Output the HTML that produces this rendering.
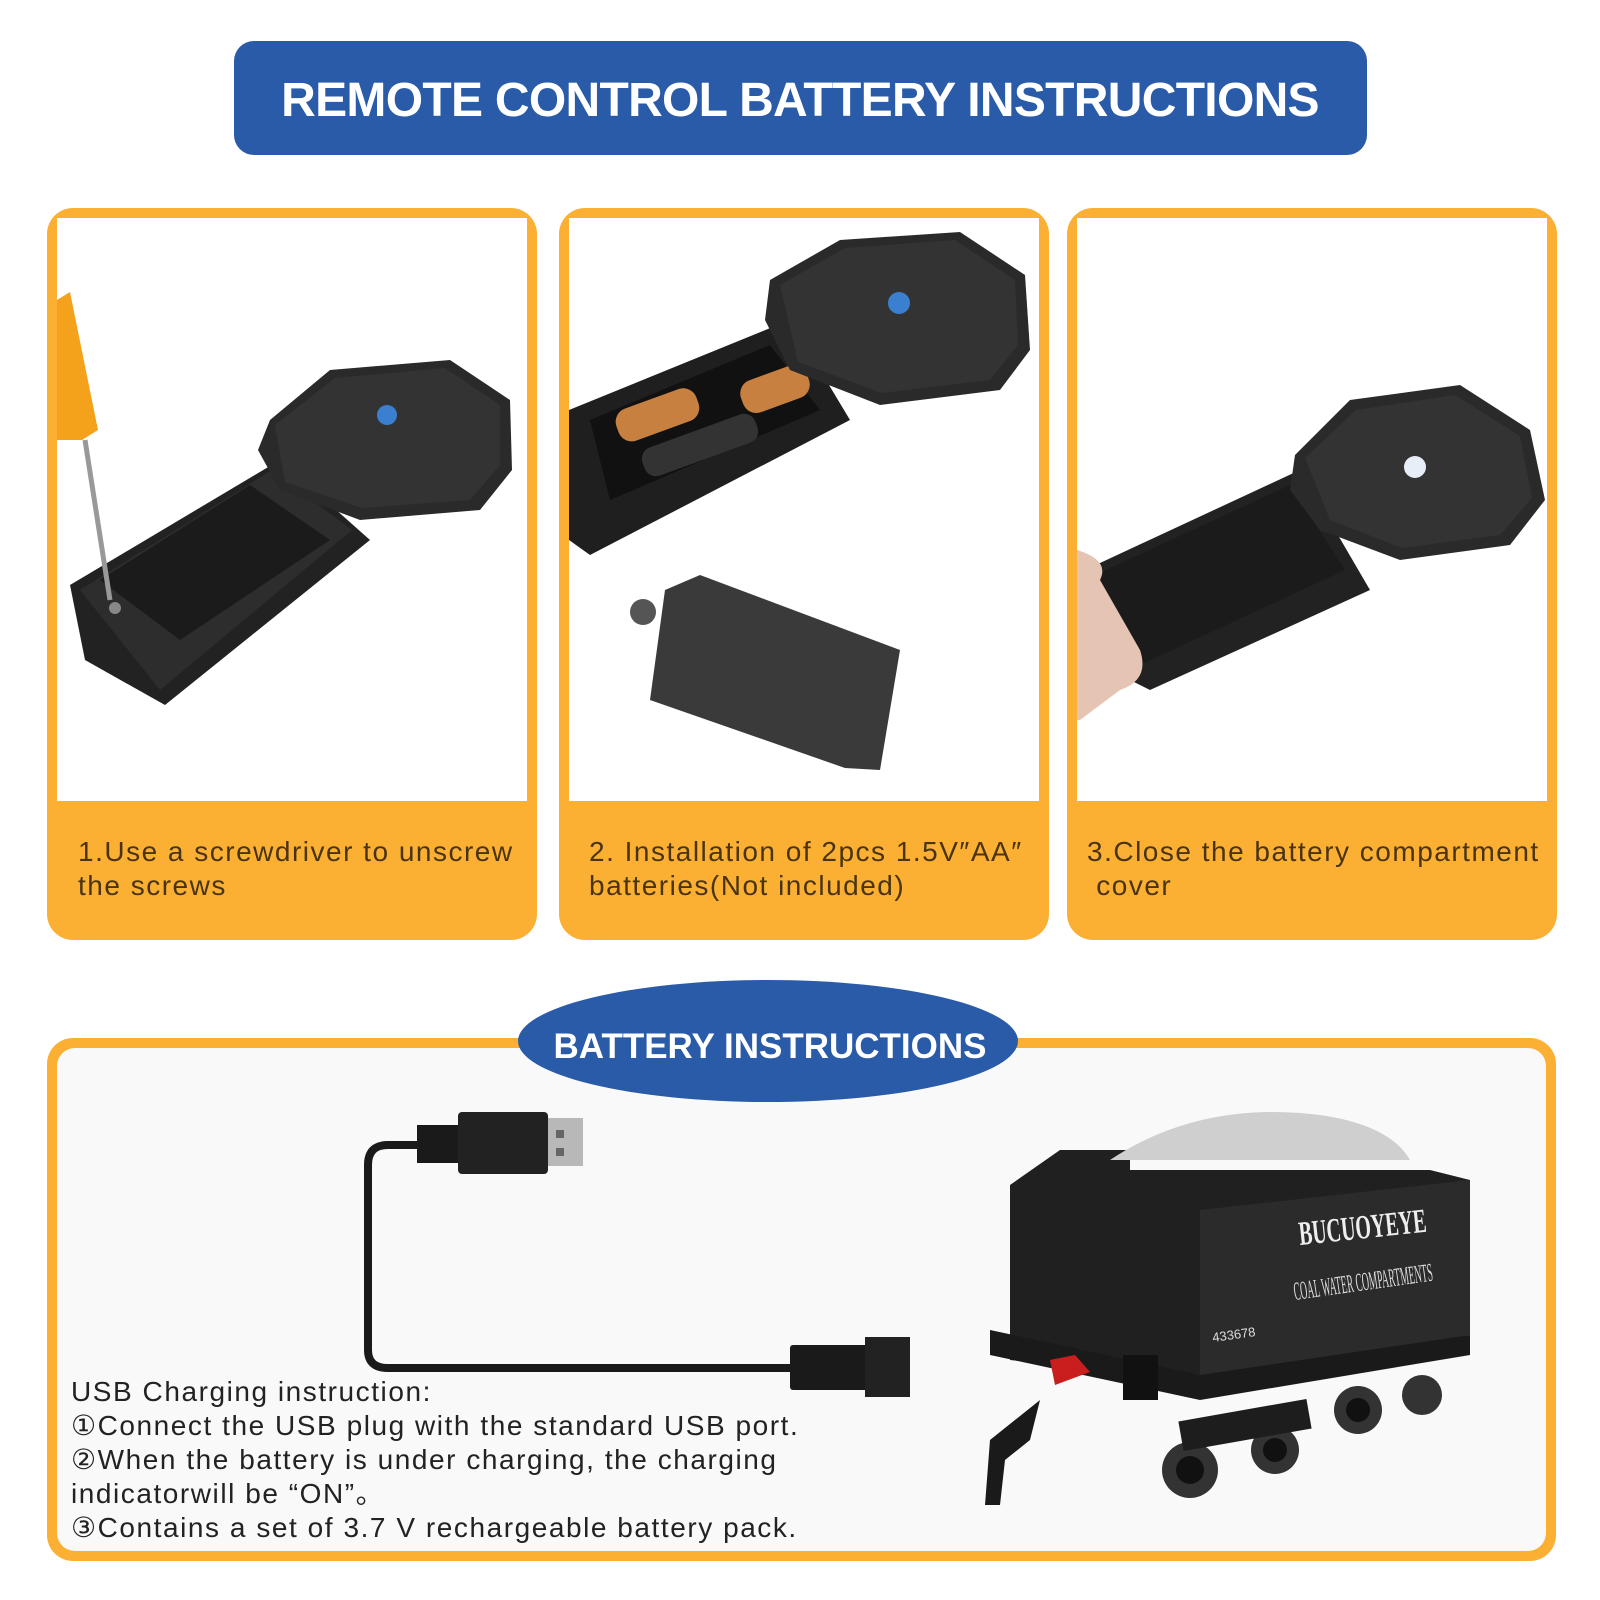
<!DOCTYPE html>
<html><head><meta charset="utf-8">
<style>
html,body{margin:0;padding:0;background:#fff;}
body{width:1600px;height:1600px;position:relative;overflow:hidden;font-family:"Liberation Sans",sans-serif;}
.t{position:absolute;color:#4a3410;font-size:28px;line-height:34px;letter-spacing:1.5px;}
.b{position:absolute;color:#222;font-size:28px;line-height:34px;letter-spacing:1.55px;}
</style></head><body>
<svg width="1600" height="1600" viewBox="0 0 1600 1600" style="position:absolute;left:0;top:0">
<!-- title -->
<rect x="234" y="41" width="1133" height="114" rx="20" fill="#2a5ba8"/>
<text x="800" y="116" text-anchor="middle" font-family="Liberation Sans" font-weight="bold" font-size="48" letter-spacing="-0.7" fill="#fff">REMOTE CONTROL BATTERY INSTRUCTIONS</text>

<!-- panels -->
<g>
<rect x="47" y="208" width="490" height="732" rx="26" fill="#fbb034"/>
<rect x="57" y="218" width="470" height="583" fill="#fff"/>
<rect x="559" y="208" width="490" height="732" rx="26" fill="#fbb034"/>
<rect x="569" y="218" width="470" height="583" fill="#fff"/>
<rect x="1067" y="208" width="490" height="732" rx="26" fill="#fbb034"/>
<rect x="1077" y="218" width="470" height="583" fill="#fff"/>
</g>

<!-- remote 1 -->
<g>
<polygon points="70,585 280,460 370,540 165,705 85,660" fill="#222"/>
<polygon points="80,590 272,470 352,530 160,690" fill="#2d2d2d"/>
<polygon points="100,580 250,485 330,540 180,640" fill="#1b1b1b"/>
<polygon points="270,420 330,370 450,360 510,400 512,470 480,510 360,520 280,490 258,450" fill="#2a2a2a"/>
<polygon points="275,425 335,378 445,368 500,405 500,465 470,500 362,508 285,482" fill="#333"/>
<circle cx="387" cy="415" r="10" fill="#3b7fd0"/>
<circle cx="115" cy="608" r="6" fill="#888"/>
<polygon points="57,300 70,292 98,430 82,440 57,440" fill="#f4a21c"/>
<line x1="85" y1="440" x2="110" y2="600" stroke="#999" stroke-width="5"/>
</g>

<!-- remote 2 -->
<g>
<polygon points="569,410 790,320 850,420 590,555 569,540" fill="#1f1f1f"/>
<polygon points="590,420 770,345 820,410 610,500" fill="#111"/>
<rect x="615" y="398" width="85" height="34" rx="14" fill="#c88040" transform="rotate(-20 657 415)"/>
<rect x="740" y="372" width="70" height="34" rx="14" fill="#c88040" transform="rotate(-20 775 389)"/>
<rect x="640" y="430" width="120" height="30" rx="12" fill="#333" transform="rotate(-20 700 445)"/>
<polygon points="770,280 840,240 960,232 1025,275 1030,350 1000,390 880,405 790,370 765,320" fill="#2a2a2a"/>
<polygon points="780,285 845,248 955,240 1015,280 1018,345 990,380 882,393 798,362" fill="#333"/>
<circle cx="899" cy="303" r="11" fill="#3b7fd0"/>
<polygon points="665,590 700,575 900,650 880,770 845,768 650,700" fill="#3a3a3a"/>
<circle cx="643" cy="612" r="13" fill="#555"/>
</g>

<!-- remote 3 -->
<g>
<polygon points="1085,570 1300,470 1370,590 1150,690 1100,665" fill="#222"/>
<polygon points="1095,575 1290,485 1345,570 1140,665" fill="#1b1b1b"/>
<polygon points="1295,455 1350,400 1460,385 1530,430 1545,500 1510,545 1400,560 1320,530 1290,490" fill="#2a2a2a"/>
<polygon points="1305,458 1356,410 1455,395 1520,436 1532,498 1500,535 1402,548 1330,520" fill="#333"/>
<circle cx="1415" cy="467" r="11" fill="#e8eef8"/>
<path d="M1077 550 Q1110 560 1100 580 L1140 650 Q1150 680 1120 690 L1080 720 L1077 720Z" fill="#e6c4b4"/>
</g>

<!-- bottom panel -->
<rect x="47" y="1038" width="1509" height="523" rx="26" fill="#fbb034"/>
<rect x="57" y="1048" width="1489" height="503" rx="18" fill="#f9f9f9"/>
<ellipse cx="768" cy="1041" rx="250" ry="61" fill="#2a5ba8"/>
<text x="770" y="1058" text-anchor="middle" font-family="Liberation Sans" font-weight="bold" font-size="35" fill="#fff">BATTERY INSTRUCTIONS</text>

<!-- usb cable -->
<path d="M420 1145 L388 1145 Q368 1145 368 1165 L368 1350 Q368 1368 388 1368 L800 1368" fill="none" stroke="#1a1a1a" stroke-width="8"/>
<rect x="417" y="1125" width="45" height="38" fill="#1a1a1a"/>
<rect x="458" y="1112" width="90" height="62" rx="4" fill="#222"/>
<rect x="548" y="1118" width="35" height="48" fill="#b8b8b8"/>
<rect x="556" y="1130" width="8" height="8" fill="#666"/><rect x="556" y="1148" width="8" height="8" fill="#666"/>
<rect x="790" y="1345" width="80" height="45" rx="3" fill="#1a1a1a"/>
<rect x="865" y="1337" width="45" height="60" fill="#222"/>

<!-- train -->
<g>
<polygon points="1010,1185 1060,1150 1130,1150 1130,1170 1430,1170 1470,1180 1470,1330 1200,1380 1010,1360" fill="#202020"/>
<path d="M1110 1160 Q1200 1100 1320 1115 Q1390 1125 1410 1160 Z" fill="#cfcfcf"/>
<polygon points="1200,1210 1470,1180 1470,1335 1200,1385" fill="#2b2b2b"/>
<polygon points="990,1330 1200,1375 1470,1335 1470,1355 1200,1400 990,1355" fill="#1a1a1a"/>
<polygon points="1050,1360 1075,1355 1090,1372 1055,1385" fill="#c81e1e"/>
<rect x="1123" y="1355" width="35" height="45" fill="#111"/>
<text x="1300" y="1245" font-family="Liberation Serif" font-weight="bold" font-size="34" fill="#eee" transform="rotate(-6 1300 1245)" text-anchor="start" textLength="128" lengthAdjust="spacingAndGlyphs">BUCUOYEYE</text>
<text x="1295" y="1300" font-family="Liberation Serif" font-size="26" fill="#ddd" transform="rotate(-8 1295 1300)" textLength="140" lengthAdjust="spacingAndGlyphs">COAL WATER COMPARTMENTS</text>
<text x="1213" y="1342" font-family="Liberation Sans" font-size="13" fill="#ddd" transform="rotate(-8 1213 1342)">433678</text>
<circle cx="1190" cy="1470" r="28" fill="#333"/><circle cx="1190" cy="1470" r="14" fill="#111"/>
<circle cx="1275" cy="1450" r="24" fill="#333"/><circle cx="1275" cy="1450" r="12" fill="#111"/>
<circle cx="1358" cy="1410" r="24" fill="#333"/><circle cx="1358" cy="1410" r="12" fill="#111"/>
<circle cx="1422" cy="1395" r="20" fill="#333"/>
<rect x="1180" y="1410" width="130" height="30" fill="#1d1d1d" transform="rotate(-10 1245 1425)"/>
<path d="M1040 1400 L990 1440 L985 1505 L1000 1505 L1005 1460 L1030 1440" fill="#1a1a1a"/>
</g>
</svg>

<div class="t" style="left:78px;top:835px;">1.Use a screwdriver to unscrew<br>the screws</div>
<div class="t" style="left:589px;top:835px;">2. Installation of 2pcs 1.5V″AA″<br>batteries(Not included)</div>
<div class="t" style="left:1087px;top:835px;">3.Close the battery compartment<br>&nbsp;cover</div>

<div class="b" style="left:71px;top:1375px;">USB Charging instruction:<br>①Connect the USB plug with the standard USB port.<br>②When the battery is under charging, the charging<br>indicatorwill be “ON”。<br>③Contains a set of 3.7 V rechargeable battery pack.</div>
</body></html>
